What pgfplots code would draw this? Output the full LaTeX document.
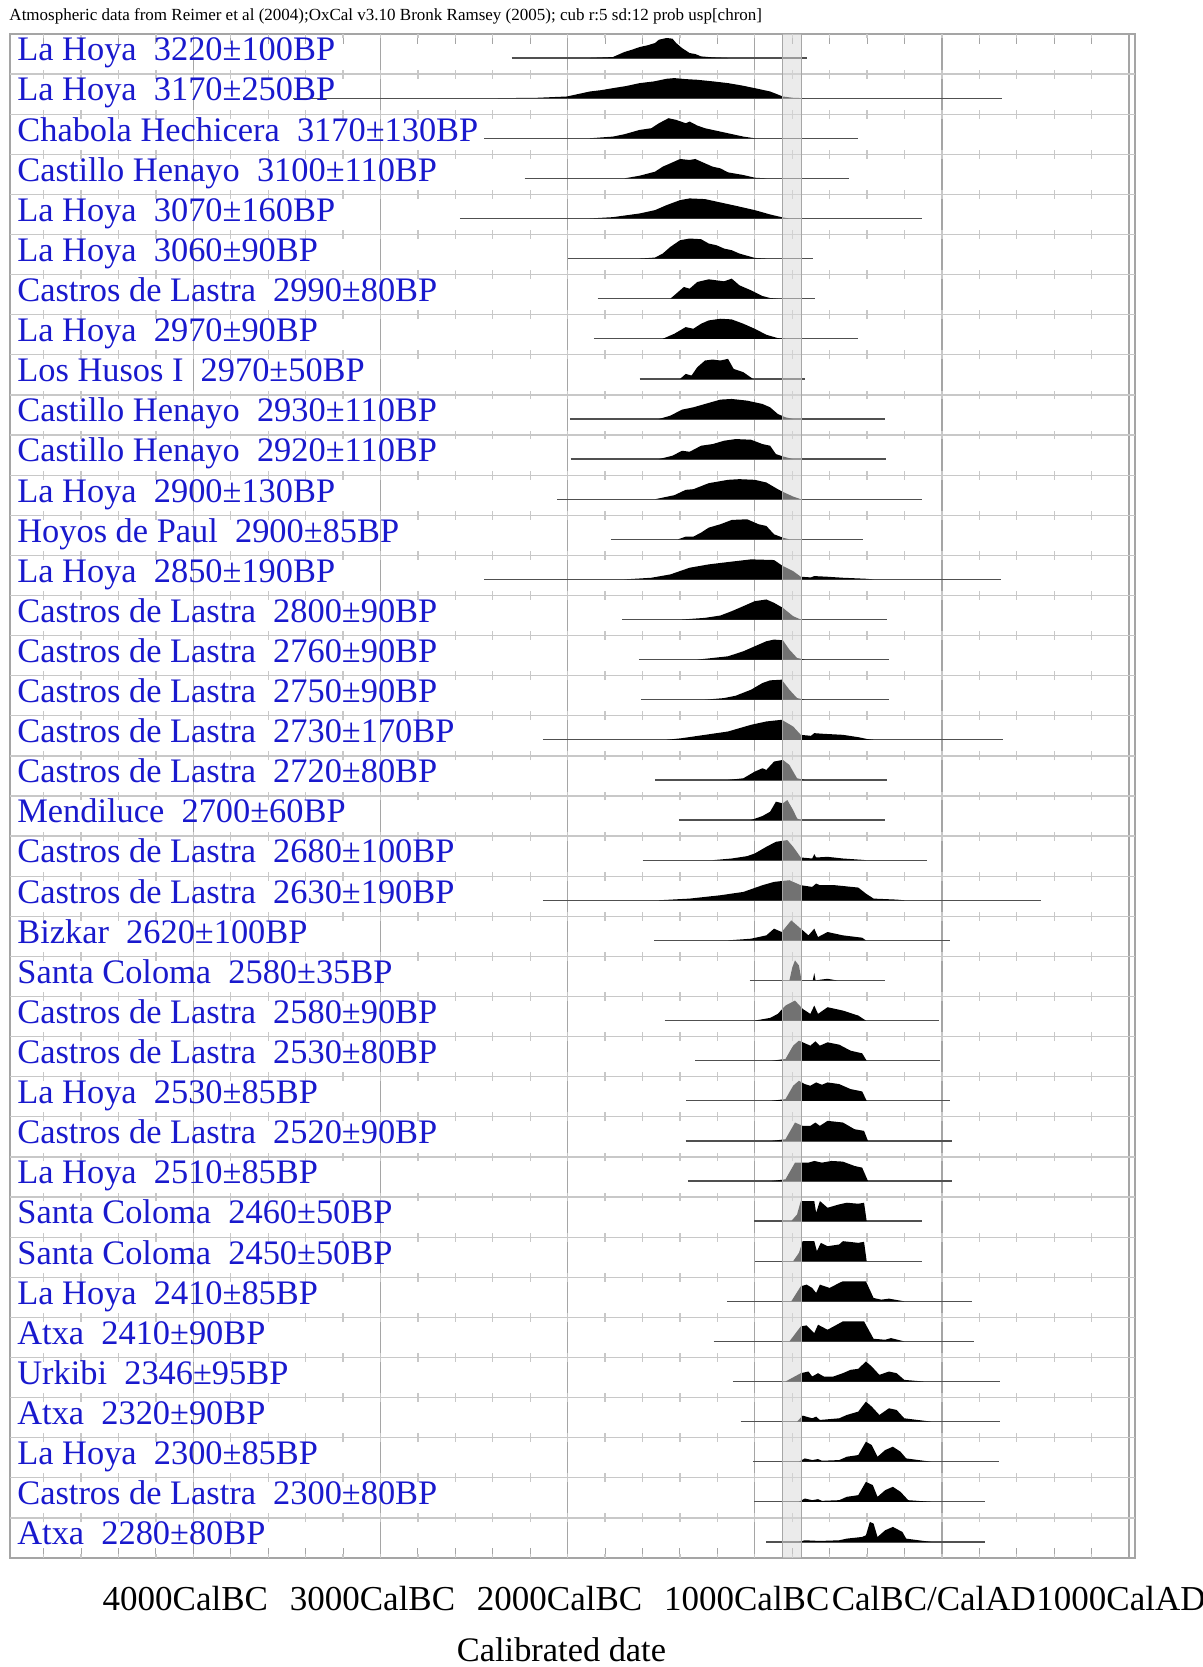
\documentclass[border=0pt]{standalone}
\usepackage{fontspec}
\setmainfont{Liberation Serif}
\usepackage{graphicx}
\usepackage{pgfplots}
\pgfplotsset{compat=1.18}
\definecolor{labblue}{RGB}{25,25,205}
\definecolor{gridc}{RGB}{165,165,165}
\definecolor{sepc}{RGB}{200,200,200}
\definecolor{rangec}{RGB}{80,80,80}
\newcommand{\lab}{\fontsize{13.75}{15}\selectfont}
% #1 row index from bottom, #2 range start, #3 range end, #4 density profile (year, relative height)
\newcommand{\drow}[4]{%
  \addplot[draw=rangec, line width=0.5pt, y filter/.expression={#1+0.4}] coordinates {(#2,0) (#3,0)};
  \addplot[fill=black, draw=none, y filter/.expression={#1+0.4+y/120}] coordinates {#4} -- cycle;
}
\newcommand{\rlab}[2]{\node[anchor=base west, inner sep=0pt, text=labblue, font=\lab] at (axis cs:-4943,#1+0.33) {#2};}
\begin{document}
\begin{tikzpicture}
\useasboundingbox (0,0) rectangle (481.2pt,666.8pt);
\begin{axis}[
  at={(4pt,43.6pt)}, anchor=south west,
  scale only axis, width=450pt, height=609.6pt,
  xmin=-4980, xmax=1032, ymin=0, ymax=38,
  clip=false,
  axis line style={gridc, line width=0.6pt},
  xtick={-4000,-3000,-2000,-1000,0,1000},
  xticklabels={4000CalBC,3000CalBC,2000CalBC,1000CalBC,CalBC/CalAD,1000CalAD},
  minor xtick={-4800,-4600,...,800},
  tick align=inside,
  major tick length=4pt, minor tick length=4pt,
  tick style={gridc, line width=0.4pt},
  xmajorgrids, major grid style={gridc, line width=0.5pt},
  ytick=\empty,
  xticklabel style={anchor=base, yshift=-20.8pt, xshift=-3.2pt, font=\fontsize{14}{15}\selectfont},
]
% row separators
\pgfplotsinvokeforeach{1,...,37}{%
  \draw[sepc, line width=0.5pt] (axis cs:-4980,#1) -- (axis cs:1032,#1);
}
% small cross ticks on every separator (dashed verticals: one dash per separator)
\pgfplotsinvokeforeach{-4800,-4600,...,800}{%
  \draw[sepc, line width=0.5pt, dash pattern=on 3.53pt off 12.512pt, dash phase=1.765pt] (axis cs:#1,0) -- (axis cs:#1,38);
}
\drow{37}{-2300}{-720}{(-1881,0) (-1758,3) (-1738,8) (-1697,18) (-1656,25) (-1615,33) (-1574,38) (-1533,45) (-1512,55) (-1471,60) (-1440,58) (-1420,45) (-1389,30) (-1348,15) (-1318,12) (-1287,5) (-1225,2) (-1143,0)}
\drow{36}{-3470}{322}{(-2373,0) (-2168,1) (-2004,5) (-1881,20) (-1820,24) (-1758,30) (-1690,36) (-1615,45) (-1540,50) (-1471,58) (-1430,60) (-1370,57) (-1307,55) (-1220,50) (-1143,45) (-1070,38) (-1000,30) (-918,20) (-850,5) (-795,1) (-733,0)}
\drow{35}{-2445}{-447}{(-1881,0) (-1758,5) (-1697,12) (-1615,25) (-1553,30) (-1512,45) (-1461,60) (-1420,55) (-1369,45) (-1348,50) (-1307,38) (-1266,30) (-1225,25) (-1143,15) (-1061,5) (-1000,0)}
\drow{34}{-2230}{-498}{(-1697,0) (-1615,8) (-1533,20) (-1492,35) (-1451,45) (-1399,58) (-1348,55) (-1318,58) (-1266,45) (-1225,35) (-1184,30) (-1143,18) (-1061,10) (-1000,2) (-938,0)}
\drow{33}{-2576}{-109}{(-1881,0) (-1758,4) (-1615,15) (-1533,25) (-1471,40) (-1399,55) (-1348,60) (-1266,58) (-1184,48) (-1102,38) (-1000,25) (-918,12) (-850,3) (-815,0)}
\drow{32}{-1998}{-689}{(-1615,0) (-1533,3) (-1492,15) (-1451,35) (-1399,55) (-1348,60) (-1287,58) (-1246,45) (-1205,40) (-1164,30) (-1123,25) (-1082,15) (-1000,2) (-938,0)}
\drow{31}{-1840}{-678}{(-1451,0) (-1420,15) (-1379,35) (-1348,30) (-1307,50) (-1246,58) (-1205,55) (-1164,52) (-1123,60) (-1082,40) (-1020,25) (-959,8) (-918,2) (-877,0)}
\drow{30}{-1860}{-447}{(-1492,0) (-1430,15) (-1369,35) (-1328,30) (-1287,45) (-1246,55) (-1184,60) (-1123,58) (-1061,45) (-1000,30) (-938,12) (-877,2) (-836,0)}
\drow{29}{-1615}{-729}{(-1399,0) (-1369,15) (-1338,10) (-1307,35) (-1266,55) (-1225,58) (-1184,55) (-1143,60) (-1113,30) (-1061,20) (-1010,0)}
\drow{28}{-1988}{-303}{(-1512,0) (-1451,10) (-1389,28) (-1328,35) (-1266,45) (-1184,58) (-1123,60) (-1041,55) (-959,45) (-918,35) (-877,15) (-836,5) (-795,0)}
\drow{27}{-1984}{-297}{(-1512,0) (-1440,10) (-1389,25) (-1348,22) (-1287,40) (-1225,45) (-1164,55) (-1102,60) (-1020,58) (-959,45) (-918,40) (-887,15) (-850,8) (-795,0)}
\drow{26}{-2055}{-109}{(-1533,0) (-1430,12) (-1369,28) (-1328,30) (-1246,48) (-1143,58) (-1082,60) (-1000,58) (-938,50) (-877,30) (-850,22) (-795,8) (-754,0)}
\drow{25}{-1769}{-420}{(-1410,0) (-1369,8) (-1328,8) (-1287,20) (-1246,35) (-1184,45) (-1123,58) (-1041,60) (-979,45) (-938,40) (-897,15) (-850,5) (-815,0)}
\drow{24}{-2445}{318}{(-1697,0) (-1553,5) (-1451,15) (-1348,35) (-1246,45) (-1143,52) (-1020,60) (-897,58) (-850,40) (-795,25) (-754,8) (-700,6) (-682,10) (-611,8) (-529,5) (-406,2) (-365,0)}
\drow{23}{-1707}{-293}{(-1389,0) (-1266,5) (-1184,12) (-1123,25) (-1061,40) (-1000,55) (-938,60) (-897,50) (-850,35) (-795,10) (-754,0)}
\drow{22}{-1619}{-283}{(-1307,0) (-1225,5) (-1143,10) (-1061,25) (-1000,40) (-938,55) (-897,60) (-850,58) (-815,30) (-774,5) (-733,0)}
\drow{21}{-1609}{-283}{(-1266,0) (-1164,5) (-1102,12) (-1020,30) (-959,50) (-918,58) (-856,60) (-815,30) (-774,5) (-733,0)}
\drow{20}{-2132}{328}{(-1471,0) (-1389,5) (-1266,15) (-1143,25) (-1020,45) (-938,55) (-856,60) (-795,40) (-754,15) (-700,12) (-682,20) (-631,18) (-529,15) (-447,8) (-395,2) (-365,0)}
\drow{19}{-1533}{-293}{(-1143,0) (-1061,5) (-1000,25) (-959,35) (-938,30) (-897,55) (-850,60) (-815,45) (-774,5) (-733,0)}
\drow{18}{-1406}{-303}{(-1020,0) (-959,12) (-918,25) (-887,55) (-850,50) (-826,60) (-795,30) (-774,5) (-754,0)}
\drow{17}{-1599}{-78}{(-1225,0) (-1123,5) (-1041,12) (-1000,20) (-938,40) (-887,55) (-826,60) (-795,40) (-754,8) (-693,5) (-682,18) (-672,8) (-611,10) (-529,5) (-426,1) (-406,0)}
\drow{16}{-2132}{527}{(-1512,0) (-1348,5) (-1184,15) (-1061,25) (-959,45) (-897,55) (-815,60) (-754,45) (-693,40) (-672,50) (-652,45) (-570,45) (-447,38) (-406,20) (-365,5) (-283,3) (-242,2) (-201,0)}
\drow{15}{-1537}{41}{(-1143,0) (-1020,5) (-938,15) (-897,35) (-856,25) (-805,60) (-754,35) (-713,15) (-682,35) (-662,10) (-611,25) (-529,15) (-426,8) (-406,0)}
\drow{14}{-1027}{-303}{(-815,0) (-799,40) (-785,60) (-764,45) (-750,0) (-690,0) (-682,22) (-675,0) (-641,3) (-611,5) (-559,0)}
\drow{13}{-1482}{-16}{(-1000,0) (-918,8) (-877,20) (-836,45) (-785,60) (-744,35) (-703,20) (-682,45) (-662,20) (-611,40) (-529,30) (-447,15) (-406,0)}
\drow{12}{-1318}{-12}{(-908,0) (-836,5) (-795,45) (-764,60) (-744,55) (-703,45) (-676,58) (-652,45) (-611,55) (-549,48) (-488,30) (-426,22) (-402,0)}
\drow{11}{-1365}{45}{(-908,0) (-836,5) (-795,45) (-764,60) (-733,50) (-703,45) (-672,55) (-641,48) (-611,55) (-549,50) (-488,35) (-426,28) (-402,0)}
\drow{10}{-1369}{55}{(-908,0) (-836,5) (-785,55) (-744,45) (-703,45) (-676,55) (-652,45) (-611,60) (-529,55) (-467,35) (-416,30) (-395,0)}
\drow{9}{-1358}{55}{(-908,0) (-836,5) (-785,55) (-754,55) (-713,55) (-682,60) (-641,55) (-590,60) (-529,58) (-467,45) (-426,40) (-395,0)}
\drow{8}{-1004}{-109}{(-805,0) (-774,20) (-754,60) (-682,60) (-672,25) (-652,60) (-611,40) (-549,50) (-508,55) (-447,52) (-416,55) (-402,0)}
\drow{7}{-1000}{-109}{(-795,0) (-764,25) (-744,60) (-682,60) (-668,30) (-647,55) (-611,45) (-549,50) (-529,60) (-447,55) (-416,58) (-402,0)}
\drow{6}{-1148}{162}{(-805,0) (-754,45) (-723,50) (-693,40) (-672,25) (-652,50) (-600,40) (-549,55) (-529,60) (-406,60) (-365,10) (-324,5) (-283,8) (-221,2) (-201,0)}
\drow{5}{-1220}{174}{(-815,0) (-754,45) (-723,48) (-682,25) (-662,50) (-611,35) (-529,60) (-416,60) (-365,8) (-303,5) (-272,10) (-201,0)}
\drow{4}{-1117}{311}{(-836,0) (-754,25) (-713,30) (-693,15) (-662,25) (-631,15) (-580,15) (-529,25) (-488,35) (-447,38) (-406,60) (-375,45) (-334,20) (-283,30) (-242,25) (-201,5) (-98,0)}
\drow{3}{-1076}{311}{(-774,0) (-744,18) (-693,10) (-672,15) (-652,5) (-549,10) (-508,20) (-447,30) (-406,60) (-375,45) (-334,20) (-283,40) (-242,35) (-201,10) (-57,0)}
\drow{2}{-1010}{307}{(-764,0) (-733,10) (-693,5) (-662,8) (-641,3) (-549,5) (-508,15) (-447,20) (-406,60) (-375,50) (-344,15) (-303,35) (-262,45) (-221,30) (-191,10) (-57,0)}
\drow{1}{-1004}{229}{(-764,0) (-733,10) (-693,5) (-662,8) (-641,3) (-549,5) (-508,15) (-447,20) (-406,60) (-369,50) (-344,15) (-303,35) (-262,45) (-221,30) (-180,5) (-57,0)}
\drow{0}{-938}{229}{(-764,0) (-733,5) (-652,3) (-549,5) (-508,10) (-426,15) (-406,20) (-385,60) (-365,55) (-344,15) (-303,35) (-262,45) (-211,30) (-191,10) (-57,0)}
% grey band
\addplot[fill=black!15, fill opacity=0.53, draw=none] coordinates {(-850,0) (-750,0) (-750,38) (-850,38)} -- cycle;
\draw[gray!70, line width=0.5pt] (axis cs:-850,0) -- (axis cs:-850,38);
\draw[gray!70, line width=0.5pt] (axis cs:-750,0) -- (axis cs:-750,38);
% labels
\rlab{37}{La Hoya~~3220±100BP}
\rlab{36}{La Hoya~~3170±250BP}
\rlab{35}{Chabola Hechicera~~3170±130BP}
\rlab{34}{Castillo Henayo~~3100±110BP}
\rlab{33}{La Hoya~~3070±160BP}
\rlab{32}{La Hoya~~3060±90BP}
\rlab{31}{Castros de Lastra~~2990±80BP}
\rlab{30}{La Hoya~~2970±90BP}
\rlab{29}{Los Husos I~~2970±50BP}
\rlab{28}{Castillo Henayo~~2930±110BP}
\rlab{27}{Castillo Henayo~~2920±110BP}
\rlab{26}{La Hoya~~2900±130BP}
\rlab{25}{Hoyos de Paul~~2900±85BP}
\rlab{24}{La Hoya~~2850±190BP}
\rlab{23}{Castros de Lastra~~2800±90BP}
\rlab{22}{Castros de Lastra~~2760±90BP}
\rlab{21}{Castros de Lastra~~2750±90BP}
\rlab{20}{Castros de Lastra~~2730±170BP}
\rlab{19}{Castros de Lastra~~2720±80BP}
\rlab{18}{Mendiluce~~2700±60BP}
\rlab{17}{Castros de Lastra~~2680±100BP}
\rlab{16}{Castros de Lastra~~2630±190BP}
\rlab{15}{Bizkar~~2620±100BP}
\rlab{14}{Santa Coloma~~2580±35BP}
\rlab{13}{Castros de Lastra~~2580±90BP}
\rlab{12}{Castros de Lastra~~2530±80BP}
\rlab{11}{La Hoya~~2530±85BP}
\rlab{10}{Castros de Lastra~~2520±90BP}
\rlab{9}{La Hoya~~2510±85BP}
\rlab{8}{Santa Coloma~~2460±50BP}
\rlab{7}{Santa Coloma~~2450±50BP}
\rlab{6}{La Hoya~~2410±85BP}
\rlab{5}{Atxa~~2410±90BP}
\rlab{4}{Urkibi~~2346±95BP}
\rlab{3}{Atxa~~2320±90BP}
\rlab{2}{La Hoya~~2300±85BP}
\rlab{1}{Castros de Lastra~~2300±80BP}
\rlab{0}{Atxa~~2280±80BP}
% title and axis label
\node[anchor=base west, inner sep=0pt, xshift=-0.4pt, yshift=5.2pt] at (axis description cs:0,1) {\resizebox{301pt}{!}{Atmospheric data from Reimer et al (2004);OxCal v3.10 Bronk Ramsey (2005); cub r:5 sd:12 prob usp[chron]}};
\node[anchor=base, inner sep=0pt, xshift=-4.4pt, yshift=-41.2pt, font=\lab] at (axis description cs:0.5,0) {Calibrated date};
\end{axis}
\end{tikzpicture}
\end{document}
